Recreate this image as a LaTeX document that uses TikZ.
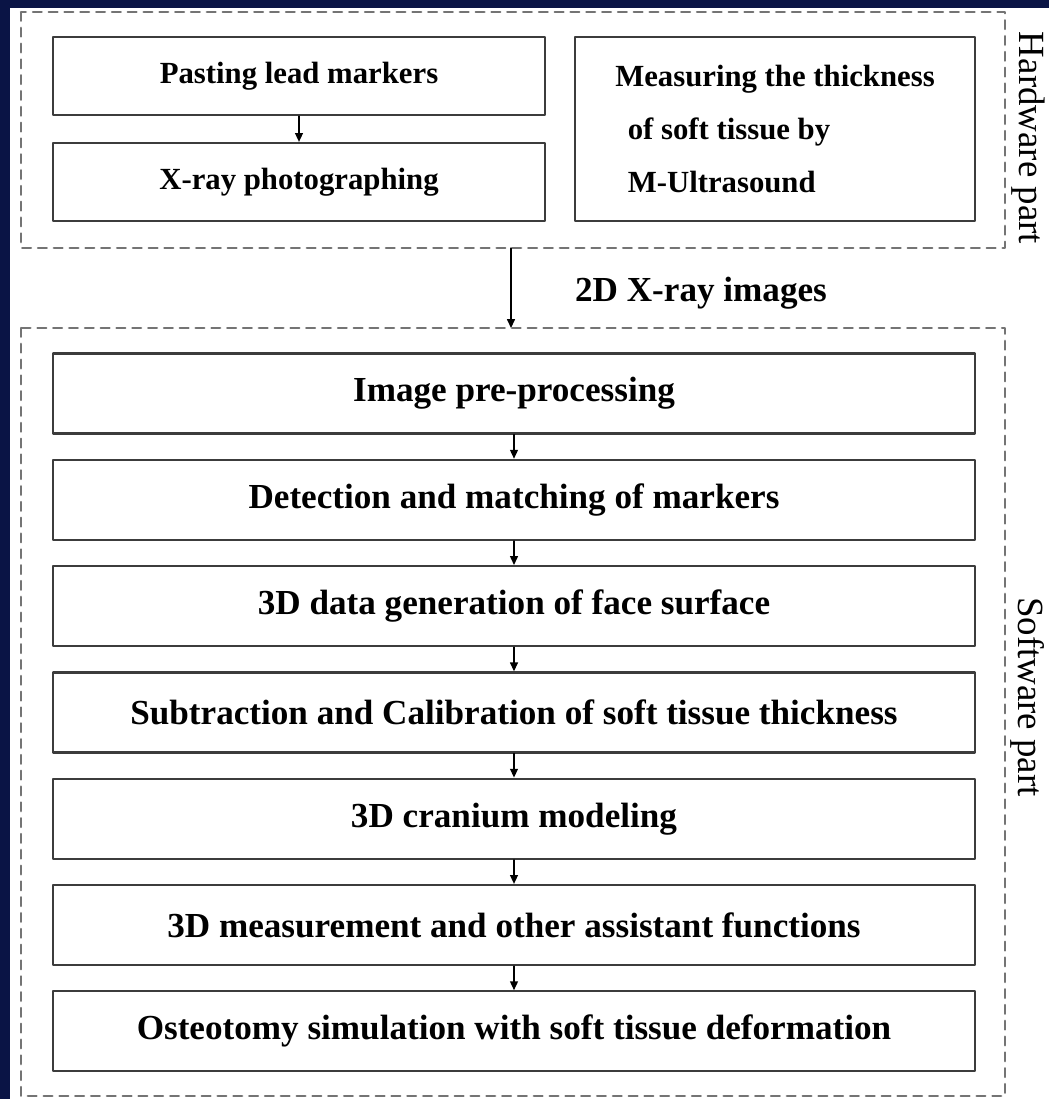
\documentclass[tikz,border=0pt]{standalone}
\usepackage{fontspec}
\setmainfont{Liberation Serif}
\usetikzlibrary{arrows.meta,positioning}
\definecolor{SlideBlue}{HTML}{0A1445}
\definecolor{BoxGray}{HTML}{3C3C3C}
\definecolor{FrameGray}{HTML}{747474}

\tikzset{
  stepbox/.style={draw=BoxGray,line width=1.3pt,minimum width=18.44cm,minimum height=1.6cm,
    font=\fontsize{20}{24}\selectfont\bfseries,inner sep=0pt},
  hwbox/.style={stepbox,minimum width=9.84cm,minimum height=1.56cm,font=\fontsize{17.5}{21}\selectfont\bfseries},
  frame/.style={draw=FrameGray,line width=1.3pt,dash pattern=on 5pt off 4pt},
  flow/.style={-{Triangle[length=5pt,width=4.5pt]},line width=0.7pt,black},
  partlabel/.style={rotate=-90,font=\fontsize{21}{25}\selectfont,inner sep=0pt}
}

\begin{document}
\begin{tikzpicture}[x=0.02cm,y=-0.02cm,line cap=round,line join=round]
  \fill[SlideBlue] (0,0) rectangle (1049,1099);
  \fill[white] (10,8) rectangle (1049,1099);
  \useasboundingbox (0,0) rectangle (1049,1099);

  % hardware part
  \draw[frame] (21,12) rectangle (1005,248);
  \node[hwbox] (paste) at (299,76) {Pasting lead markers};
  \node[hwbox] (xray) at (299,182) {X-ray photographing};
  \node[hwbox,minimum width=8cm,minimum height=3.68cm,align=left,
    font=\fontsize{17.5}{30}\selectfont\bfseries] (ultra) at (775,129)
    {Measuring the thickness\\\hspace*{0.25cm}of soft tissue by\\\hspace*{0.25cm}M-Ultrasound};
  \draw[flow] (paste) -- (xray);
  \node[partlabel] (hwlabel) at (1028,138) {Hardware part};

  % transfer to software part
  \coordinate (hwbot) at (511,248);
  \coordinate (swtop) at (511,328);
  \draw[flow] (hwbot) -- (swtop);
  \node[font=\fontsize{20}{24}\selectfont\bfseries] (images) at (701,293) {2D X-ray images};

  % software part
  \draw[frame] (21,328) rectangle (1005,1096);
  \foreach \txt [count=\i] in {Image pre-processing,
      Detection and matching of markers,
      3D data generation of face surface,
      Subtraction and Calibration of soft tissue thickness,
      3D cranium modeling,
      3D measurement and other assistant functions,
      Osteotomy simulation with soft tissue deformation}
    \node[stepbox] (s\i) at (514,{393.5+106.3*(\i-1)}) {\txt};
  \foreach \i [evaluate=\i as \j using int(\i+1)] in {1,...,6}
    \draw[flow] (s\i) -- (s\j);
  \node[partlabel] (swlabel) at (1028,697) {Software part};
\end{tikzpicture}
\end{document}
